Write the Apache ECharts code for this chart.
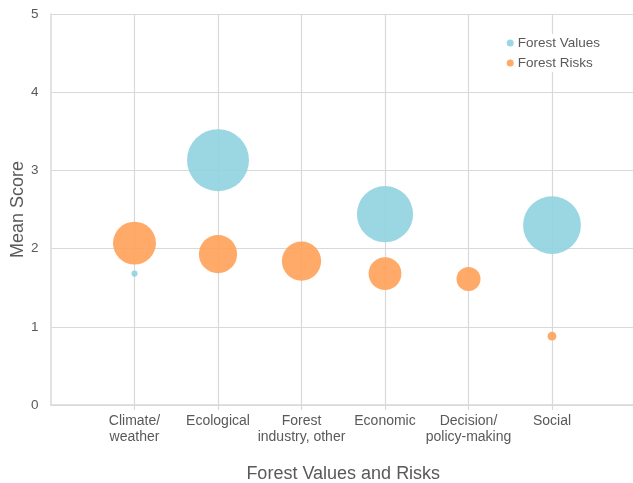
<!DOCTYPE html>
<html>
<head>
<meta charset="utf-8">
<script src="https://cdn.jsdelivr.net/npm/echarts@6/dist/echarts.min.js"></script>
<style>
  html, body { margin: 0; padding: 0; background: #fff; }
  #chart { width: 633px; height: 483px; }
</style>
</head>
<body>
<div id="chart"></div>
<script>
// Themes along the x axis (positions 1..6)
const categories = ['Climate/\nweather', 'Ecological', 'Forest\nindustry, other', 'Economic', 'Decision/\npolicy-making', 'Social'];
const yTicks = [0, 1, 2, 3, 4, 5];

// Mean scores per theme (null = not present)
const valuesMean = [1.68, 3.13, null, 2.44, null, 2.30];
const risksMean  = [2.07, 1.93, 1.84, 1.68, 1.61, 0.88];

// Bubble weights (relative number of mentions)
const valuesCount = [1, 100, null, 82, null, 87];
const risksCount  = [48, 38, 40, 28, 15, 2];

const maxCount = 100;
const maxDiameter = 62;

function toPoints(means, counts) {
  const pts = [];
  means.forEach((m, i) => {
    if (m !== null) pts.push([i + 1, m, counts[i]]);
  });
  return pts;
}

const sizeFn = d => Math.sqrt(d[2] / maxCount) * maxDiameter;

const textColor = '#595959';
const gridColor = '#d9d9d9';
const fontFamily = '"Liberation Sans", Arial, sans-serif';

const chart = echarts.init(document.getElementById('chart'));
chart.setOption({
  animation: false,
  textStyle: { fontFamily },
  grid: {
    left: 51, top: 14, width: 584.5, height: 391,
    containLabel: false,
    outerBoundsMode: 'none'
  },
  legend: {
    right: 30,
    top: 34,
    orient: 'vertical',
    itemWidth: 7,
    itemHeight: 7,
    itemGap: 6,
    icon: 'circle',
    backgroundColor: '#fff',
    padding: [2, 3, 2, 2],
    textStyle: { color: textColor, fontSize: 13.5, fontFamily, padding: [0, 0, 0, -1] },
    data: ['Forest Values', 'Forest Risks']
  },
  xAxis: {
    type: 'value',
    min: 0,
    max: 7,
    interval: 1,
    name: 'Forest Values and Risks',
    nameLocation: 'middle',
    nameGap: 60,
    nameMoveOverlap: false,
    nameTextStyle: { color: textColor, fontSize: 18, fontFamily, verticalAlign: 'top' },
    axisLine: { show: true, lineStyle: { color: gridColor, width: 1.5 } },
    axisTick: { show: true, length: 5, lineStyle: { color: gridColor, width: 1.2 } },
    axisLabel: {
      color: textColor,
      fontSize: 14,
      lineHeight: 16,
      margin: 8,
      showMinLabel: false,
      showMaxLabel: false,
      formatter: v => categories[v - 1] || ''
    },
    splitLine: {
      show: true,
      lineStyle: { color: gridColor, width: 1.2 },
      showMinLine: false,
      showMaxLine: false
    }
  },
  yAxis: {
    type: 'value',
    min: yTicks[0],
    max: yTicks[yTicks.length - 1],
    interval: 1,
    name: 'Mean Score',
    nameLocation: 'middle',
    nameGap: 24,
    nameMoveOverlap: false,
    nameTextStyle: { color: textColor, fontSize: 18, fontFamily },
    axisLine: { show: true, lineStyle: { color: gridColor, width: 1.5 } },
    axisTick: { show: false },
    axisLabel: { color: textColor, fontSize: 13.5, margin: 12.5 },
    splitLine: { show: true, lineStyle: { color: gridColor, width: 1.2 } }
  },
  series: [
    {
      name: 'Forest Values',
      type: 'scatter',
      data: toPoints(valuesMean, valuesCount),
      symbolSize: sizeFn,
      itemStyle: { color: '#90d3e0', opacity: 0.9 },
      emphasis: { disabled: true },
      z: 2
    },
    {
      name: 'Forest Risks',
      type: 'scatter',
      data: toPoints(risksMean, risksCount),
      symbolSize: sizeFn,
      itemStyle: { color: '#ffa158', opacity: 0.9 },
      emphasis: { disabled: true },
      z: 3
    }
  ]
});
</script>
</body>
</html>
